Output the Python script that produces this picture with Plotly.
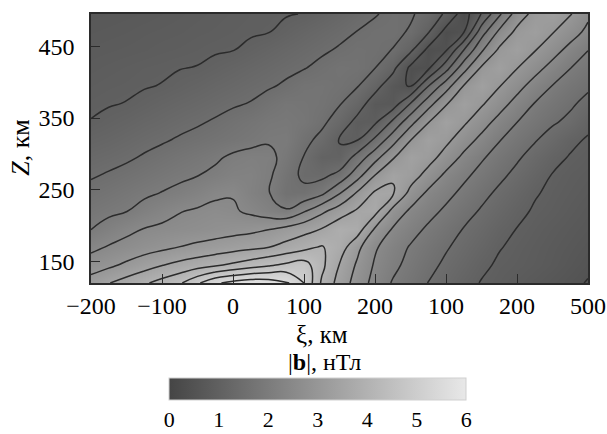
import plotly.graph_objects as go

# ---- data (|b| in nT on a xi-Z grid) ----
XI_KM = [-200, -175, -150, -125, -100, -75, -50, -25, 0, 25, 50, 75, 100, 125, 150,
         175, 200, 225, 250, 275, 300, 325, 350, 375, 400, 425, 450, 475, 500]
Z_KM = [120, 145, 170, 195, 220, 245, 270, 295, 320, 345, 370, 395, 420, 445, 470, 495]

B_Z120 = [3.20, 3.48, 3.71, 3.93, 4.17, 4.43, 4.92, 5.42, 5.65, 5.80, 5.75, 5.60, 5.00, 3.93, 3.31,
          2.79, 2.33, 1.96, 1.73, 1.49, 1.31, 1.13, 0.98, 0.90, 0.81, 0.73, 0.65, 0.57, 0.48]
B_Z145 = [2.77, 2.90, 3.09, 3.29, 3.48, 3.64, 3.78, 3.93, 4.09, 4.26, 4.43, 4.60, 4.72, 4.12, 3.48,
          2.93, 2.44, 2.12, 1.85, 1.62, 1.42, 1.25, 1.07, 0.95, 0.89, 0.82, 0.74, 0.65, 0.56]
B_Z170 = [2.37, 2.54, 2.66, 2.78, 2.89, 3.01, 3.11, 3.20, 3.30, 3.39, 3.49, 3.67, 3.85, 4.05, 3.76,
          3.13, 2.56, 2.24, 1.96, 1.75, 1.54, 1.36, 1.19, 1.02, 0.93, 0.85, 0.77, 0.70, 0.62]
B_Z195 = [1.99, 2.19, 2.38, 2.52, 2.59, 2.65, 2.70, 2.76, 2.82, 2.88, 2.98, 3.15, 3.33, 3.52, 3.85,
          3.75, 2.94, 2.46, 2.18, 1.92, 1.70, 1.48, 1.31, 1.13, 0.99, 0.90, 0.82, 0.75, 0.68]
B_Z220 = [1.81, 1.90, 1.99, 2.17, 2.33, 2.48, 2.56, 2.62, 2.56, 2.41, 2.22, 2.06, 2.46, 2.90, 3.25,
          3.57, 3.66, 2.85, 2.41, 2.16, 1.91, 1.67, 1.45, 1.27, 1.09, 0.96, 0.89, 0.81, 0.73]
B_Z245 = [1.63, 1.72, 1.82, 1.92, 2.02, 2.12, 2.26, 2.42, 2.47, 2.22, 2.03, 1.64, 1.64, 1.90, 2.48,
          3.07, 3.58, 3.56, 2.84, 2.40, 2.14, 1.88, 1.63, 1.41, 1.22, 1.03, 0.93, 0.86, 0.79]
B_Z270 = [1.46, 1.54, 1.63, 1.72, 1.82, 1.91, 1.99, 2.10, 2.22, 2.24, 2.08, 1.72, 1.40, 1.38, 1.65,
          2.30, 3.01, 3.45, 3.25, 2.81, 2.40, 2.10, 1.84, 1.60, 1.38, 1.17, 0.98, 0.90, 0.84]
B_Z295 = [1.31, 1.37, 1.44, 1.54, 1.64, 1.74, 1.83, 1.93, 2.08, 2.15, 2.12, 1.86, 1.48, 1.10, 1.10,
          1.69, 2.32, 2.95, 3.39, 3.20, 2.79, 2.39, 2.06, 1.80, 1.56, 1.33, 1.12, 0.97, 0.90]
B_Z320 = [1.16, 1.22, 1.30, 1.38, 1.45, 1.54, 1.62, 1.70, 1.78, 1.86, 1.95, 1.97, 1.63, 1.38, 0.97,
          0.96, 1.58, 2.28, 2.98, 3.37, 3.13, 2.74, 2.38, 2.03, 1.78, 1.54, 1.32, 1.10, 0.96]
B_Z345 = [1.01, 1.08, 1.15, 1.23, 1.30, 1.38, 1.45, 1.54, 1.65, 1.75, 1.85, 1.88, 1.80, 1.60, 1.29,
          0.87, 0.90, 1.57, 2.31, 2.97, 3.38, 3.09, 2.72, 2.35, 2.01, 1.78, 1.56, 1.40, 1.12]
B_Z370 = [0.95, 0.98, 1.01, 1.08, 1.16, 1.23, 1.30, 1.37, 1.45, 1.52, 1.68, 1.80, 1.76, 1.70, 1.53,
          1.23, 0.75, 0.72, 1.52, 2.30, 2.96, 3.33, 3.06, 2.70, 2.33, 1.98, 1.77, 1.57, 1.37]
B_Z395 = [0.90, 0.93, 0.95, 0.98, 1.01, 1.08, 1.15, 1.23, 1.30, 1.38, 1.45, 1.56, 1.70, 1.72, 1.65,
          1.53, 1.17, 0.70, 0.45, 1.47, 2.27, 3.01, 3.35, 3.03, 2.67, 2.31, 1.99, 1.78, 1.58]
B_Z420 = [0.85, 0.88, 0.91, 0.94, 0.96, 0.99, 1.01, 1.08, 1.16, 1.24, 1.32, 1.40, 1.48, 1.60, 1.70,
          1.66, 1.51, 1.14, 0.40, 0.40, 1.30, 2.30, 3.06, 3.34, 3.02, 2.68, 2.34, 2.01, 1.80]
B_Z445 = [0.80, 0.82, 0.84, 0.86, 0.89, 0.91, 0.94, 0.97, 0.99, 1.08, 1.17, 1.26, 1.35, 1.44, 1.54,
          1.62, 1.58, 1.49, 1.10, 0.38, 0.45, 1.49, 2.42, 3.08, 3.32, 3.03, 2.70, 2.35, 2.01]
B_Z470 = [0.75, 0.77, 0.79, 0.82, 0.84, 0.86, 0.89, 0.91, 0.94, 0.96, 0.99, 1.09, 1.20, 1.30, 1.40,
          1.51, 1.58, 1.60, 1.46, 1.04, 0.33, 0.47, 1.78, 2.60, 3.12, 3.28, 3.03, 2.72, 2.38]
B_Z495 = [0.70, 0.72, 0.74, 0.76, 0.79, 0.82, 0.85, 0.88, 0.91, 0.94, 0.96, 0.98, 1.01, 1.12, 1.24,
          1.36, 1.48, 1.57, 1.55, 1.34, 0.92, 0.26, 1.02, 1.91, 2.73, 3.15, 3.29, 3.04, 2.60]

X_TICK_VALUES = [-200, -100, 0, 100, 200, 300, 400, 500]
X_TICK_TEXT = ["\u2212200", "\u2212100", "0", "100", "200", "100", "200", "500"]
Y_TICK_VALUES = [150, 250, 350, 450]
CBAR_TICKS = [0, 1, 2, 3, 4, 5, 6]
CBAR_MIN, CBAR_MAX = 0, 6
CONTOUR_START, CONTOUR_END, CONTOUR_STEP = 0.5, 5.5, 0.5

B_GRID = [B_Z120, B_Z145, B_Z170, B_Z195, B_Z220, B_Z245, B_Z270, B_Z295,
          B_Z320, B_Z345, B_Z370, B_Z395, B_Z420, B_Z445, B_Z470, B_Z495]

FONT = "Liberation Serif"
INK = "#2b2b2b"
GRAYS = [[0, "#454545"], [1, "#e8e8e8"]]

fig = go.Figure()
fig.add_trace(go.Contour(
    x=XI_KM, y=Z_KM, z=B_GRID,
    zmin=CBAR_MIN, zmax=CBAR_MAX,
    colorscale=GRAYS,
    contours=dict(start=CONTOUR_START, end=CONTOUR_END, size=CONTOUR_STEP,
                  coloring="heatmap", showlabels=False),
    line=dict(color=INK, width=1.5, smoothing=1.3),
    hoverinfo="skip",
    showscale=False,
))

# continuous colour bar (as in the reference: no contour bands in the bar)
fig.add_trace(go.Scatter(
    x=[None], y=[None], mode="markers", hoverinfo="skip", showlegend=False,
    marker=dict(
        color=[CBAR_MIN], cmin=CBAR_MIN, cmax=CBAR_MAX, colorscale=GRAYS, showscale=True,
        colorbar=dict(
            orientation="h",
            x=0.456, xanchor="center",
            y=-0.4423, yanchor="middle",
            len=0.598, lenmode="fraction",
            thickness=22,
            tickvals=CBAR_TICKS,
            ticks="",
            tickfont=dict(family=FONT, size=22, color="black"),
            outlinewidth=1, outlinecolor="#cfcfcf",
            xpad=0, ypad=0,
        ),
    ),
))

axis_common = dict(
    showgrid=False, zeroline=False,
    showline=True, linecolor=INK, linewidth=1.5, mirror=True,
    ticks="inside", ticklen=9, tickwidth=1.2, tickcolor=INK,
    tickfont=dict(family=FONT, size=24, color="black"),
)

fig.update_layout(
    width=607, height=434,
    margin=dict(l=91, r=19, t=14, b=151, autoexpand=False),
    paper_bgcolor="white", plot_bgcolor="white",
    showlegend=False,
    xaxis=dict(range=[-200, 500], tickvals=X_TICK_VALUES, ticktext=X_TICK_TEXT, **axis_common),
    yaxis=dict(range=[120, 495], tickvals=Y_TICK_VALUES, ticklabelstandoff=10, **axis_common),
    annotations=[
        dict(text="\u03be, км", xref="paper", yref="paper", x=0.465, y=-0.193,
             xanchor="center", yanchor="middle", showarrow=False,
             font=dict(family=FONT, size=25, color="black")),
        dict(text="|<b>b</b>|, нТл", xref="paper", yref="paper", x=0.469, y=-0.293,
             xanchor="center", yanchor="middle", showarrow=False,
             font=dict(family=FONT, size=24, color="black")),
        dict(text="<i>Z</i>, км", xref="paper", yref="paper", x=-0.141, y=0.506,
             xanchor="center", yanchor="middle", showarrow=False, textangle=-90,
             font=dict(family=FONT, size=26, color="black")),
    ],
)

fig.write_html(
    "out.html",
    config={"displayModeBar": False},
    post_script="document.body.style.margin='0px';document.body.style.padding='0px';",
)
